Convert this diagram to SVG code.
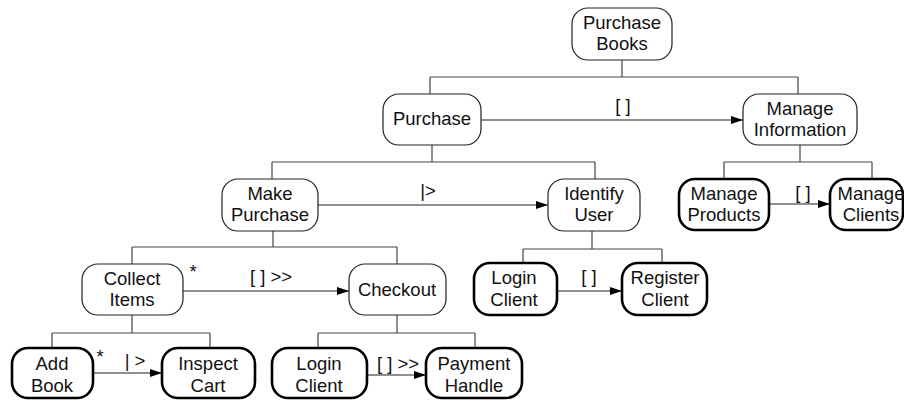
<svg xmlns="http://www.w3.org/2000/svg" width="904" height="401" viewBox="0 0 904 401">
<defs>
<marker id="ah" markerWidth="12" markerHeight="8" refX="12" refY="4" orient="auto" markerUnits="userSpaceOnUse">
<path d="M0,0 L12,4 L0,8 Z" fill="#000"/>
</marker>
<style>
.n{fill:#fff;stroke:#222;stroke-width:1.2}
.k{fill:#fff;stroke:#000;stroke-width:2.6}
text{font-family:"Liberation Sans",Arial,sans-serif;font-size:18.5px;fill:#111;text-anchor:middle}
.t{fill:none;stroke:#444;stroke-width:1.2}
.a{fill:none;stroke:#222;stroke-width:1.2;marker-end:url(#ah)}
</style>
</defs>
<rect width="904" height="401" fill="#fff"/>
<g id="connectors">
<path class="t" d="M622,60 V77 M430,77 H798 M430,77 V94 M798,77 V94"/>
<path class="t" d="M432,145 V162 M272,162 H595 M272,162 V179 M595,162 V179"/>
<path class="t" d="M800,145 V162 M724,162 H872 M724,162 V179 M872,162 V179"/>
<path class="t" d="M273,231 V247 M132,247 H397 M132,247 V264 M397,247 V264"/>
<path class="t" d="M592,231 V249 M523,249 H662 M523,249 V263 M662,249 V263"/>
<path class="t" d="M132,315 V333 M52,333 H210 M52,333 V348 M210,333 V348"/>
<path class="t" d="M397,315 V333 M318,333 H475 M318,333 V348 M475,333 V348"/>
<path class="a" d="M481,120 H743"/>
<path class="a" d="M318,205 H548"/>
<path class="a" d="M769,204 H830"/>
<path class="a" d="M183,291 H349"/>
<path class="a" d="M557,291 H622"/>
<path class="a" d="M93,373 H162"/>
<path class="a" d="M367,375 H426"/>
<text x="623" y="112">[ ]</text>
<text x="428" y="197">|&gt;</text>
<text x="803" y="199">[ ]</text>
<text x="271" y="283">[ ] &gt;&gt;</text>
<text x="193" y="278">*</text>
<text x="589" y="283">[ ]</text>
<text x="100" y="363">*</text>
<text x="135" y="367">| &gt;</text>
<text x="398" y="370">[ ] &gt;&gt;</text>
</g>
<g id="purchase-books"><rect class="n" x="572" y="8" width="100" height="52" rx="16"/><text x="622" y="29">Purchase</text><text x="622" y="50">Books</text></g>
<g id="purchase"><rect class="n" x="383" y="94" width="98" height="51" rx="16"/><text x="432" y="125">Purchase</text></g>
<g id="manage-information"><rect class="n" x="743" y="94" width="114" height="51" rx="16"/><text x="800" y="115">Manage</text><text x="800" y="136">Information</text></g>
<g id="make-purchase"><rect class="n" x="222" y="179" width="96" height="52" rx="16"/><text x="270" y="200">Make</text><text x="270" y="221">Purchase</text></g>
<g id="identify-user"><rect class="n" x="548" y="179" width="92" height="52" rx="16"/><text x="594" y="200">Identify</text><text x="594" y="221">User</text></g>
<g id="manage-products"><rect class="k" x="679" y="179" width="90" height="51" rx="16"/><text x="724" y="200">Manage</text><text x="724" y="221">Products</text></g>
<g id="manage-clients"><rect class="k" x="830" y="179" width="73" height="51" rx="16"/><text x="871" y="200">Manage</text><text x="871" y="221">Clients</text></g>
<g id="collect-items"><rect class="n" x="82" y="264" width="101" height="51" rx="16"/><text x="132" y="285">Collect</text><text x="132" y="306">Items</text></g>
<g id="checkout"><rect class="n" x="349" y="264" width="97" height="51" rx="16"/><text x="397" y="296">Checkout</text></g>
<g id="login-client-1"><rect class="k" x="474" y="263" width="83" height="52" rx="16"/><text x="514" y="284">Login</text><text x="514" y="306">Client</text></g>
<g id="register-client"><rect class="k" x="622" y="263" width="85" height="52" rx="16"/><text x="665" y="284">Register</text><text x="665" y="306">Client</text></g>
<g id="add-book"><rect class="k" x="12" y="348" width="81" height="50" rx="16"/><text x="52" y="370">Add</text><text x="52" y="392">Book</text></g>
<g id="inspect-cart"><rect class="k" x="162" y="348" width="93" height="50" rx="16"/><text x="208" y="370">Inspect</text><text x="208" y="392">Cart</text></g>
<g id="login-client-2"><rect class="k" x="272" y="348" width="95" height="50" rx="16"/><text x="319" y="370">Login</text><text x="319" y="392">Client</text></g>
<g id="payment-handle"><rect class="k" x="426" y="348" width="96" height="50" rx="16"/><text x="474" y="370">Payment</text><text x="474" y="392">Handle</text></g>
</svg>
